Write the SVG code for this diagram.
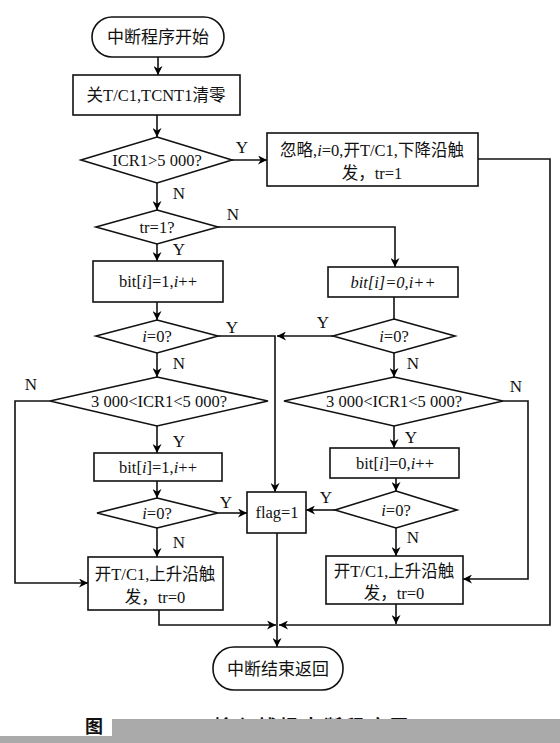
<svg xmlns="http://www.w3.org/2000/svg" width="560" height="743" viewBox="0 0 560 743">
<defs>
<marker id="ah" viewBox="0 0 10 10" refX="10" refY="5" markerWidth="9" markerHeight="9" markerUnits="userSpaceOnUse" orient="auto"><path d="M0,0 L10,5 L0,10 L3,5 Z" fill="#000"/></marker>
<style>
.s{fill:#fff;stroke:#111;stroke-width:1.6}
.c{fill:none;stroke:#111;stroke-width:1.6}
.a{fill:none;stroke:#111;stroke-width:1.6;marker-end:url(#ah)}
text{font-family:"Liberation Serif","Noto Sans CJK SC",serif;font-size:16.5px;fill:#111;text-anchor:middle}
.l{font-size:17px}
.it{font-style:italic}
</style>
</defs>
<rect width="560" height="743" fill="#fff"/>
<g id="connectors">
<line class="a" x1="158" y1="57" x2="158" y2="75"/>
<line class="a" x1="157" y1="115" x2="157" y2="137"/>
<line class="a" x1="232" y1="160" x2="267" y2="160"/>
<line class="a" x1="157" y1="183" x2="157" y2="210"/>
<polyline class="a" points="218,227 395,227 395,267"/>
<line class="a" x1="157" y1="244" x2="157" y2="261"/>
<line class="a" x1="157" y1="302" x2="157" y2="320"/>
<polyline class="a" points="218,336 275,336 275,492"/>
<line class="c" x1="394" y1="297" x2="394" y2="319"/>
<line class="a" x1="333" y1="336" x2="277" y2="336"/>
<line class="a" x1="394" y1="353" x2="394" y2="377"/>
<line class="a" x1="157" y1="353" x2="157" y2="377"/>
<polyline class="a" points="50,401 15,401 15,583 88,583"/>
<line class="a" x1="157" y1="426" x2="157" y2="453"/>
<line class="a" x1="157" y1="481" x2="157" y2="498"/>
<line class="a" x1="218" y1="513" x2="247" y2="513"/>
<line class="a" x1="157" y1="528" x2="157" y2="557"/>
<polyline class="a" points="503,401 528,401 528,579 463,579"/>
<line class="a" x1="394" y1="426" x2="394" y2="448"/>
<line class="a" x1="396" y1="478" x2="396" y2="491"/>
<line class="a" x1="335" y1="510" x2="306" y2="510"/>
<line class="a" x1="396" y1="528" x2="396" y2="556"/>
<line class="a" x1="396" y1="604" x2="396" y2="624"/>
<polyline class="a" points="478,159 550,159 550,625 279,625"/>
<polyline class="a" points="159,610 159,625 276,625"/>
<line class="a" x1="277" y1="533" x2="277" y2="647"/>
</g>
<g id="labels">
<text x="242" y="153" class="l">Y</text>
<text x="179" y="199" class="l">N</text>
<text x="233" y="220" class="l">N</text>
<text x="179" y="255" class="l">Y</text>
<text x="232" y="333" class="l">Y</text>
<text x="323" y="328" class="l">Y</text>
<text x="179" y="369" class="l">N</text>
<text x="413" y="369" class="l">N</text>
<text x="31" y="390" class="l">N</text>
<text x="516" y="392" class="l">N</text>
<text x="179" y="447" class="l">Y</text>
<text x="411" y="443" class="l">Y</text>
<text x="226" y="508" class="l">Y</text>
<text x="326" y="503" class="l">Y</text>
<text x="179" y="548" class="l">N</text>
<text x="413" y="543" class="l">N</text>
</g>
<g id="start"><rect class="s" x="92" y="17" width="132" height="40" rx="20"/><text x="158" y="43" class="l">中断程序开始</text></g>
<g id="clear"><rect class="s" x="73" y="75" width="167" height="40"/><text x="156" y="101">关T/C1,TCNT1清零</text></g>
<g id="d-icr"><polygon class="s" points="157,137 232,160 157,183 81,160"/><text x="157" y="166">ICR1&gt;5 000?</text></g>
<g id="ignore"><rect class="s" x="267" y="133" width="211" height="53"/><text x="372" y="156">忽略,<tspan class="it">i</tspan>=0,开T/C1,下降沿触</text><text x="372" y="179">发，tr=1</text></g>
<g id="d-tr"><polygon class="s" points="157,210 218,227 157,244 96,227"/><text x="157" y="233">tr=1?</text></g>
<g id="bit1a"><rect class="s" x="93" y="261" width="130" height="41"/><text x="158" y="287">bit[<tspan class="it">i</tspan>]=1,<tspan class="it">i</tspan>++</text></g>
<g id="d-i0-la"><polygon class="s" points="157,320 218,336 157,353 96,336"/><text x="157" y="342"><tspan class="it">i</tspan>=0?</text></g>
<g id="bit0a"><rect class="s" x="328" y="267" width="130" height="30"/><text x="393" y="288" class="it">bit[i]=0,i++</text></g>
<g id="d-i0-ra"><polygon class="s" points="394,319 455,336 394,353 333,336"/><text x="394" y="342"><tspan class="it">i</tspan>=0?</text></g>
<g id="d-rng-l"><polygon class="s" points="157,377 268,401 157,426 50,401"/><text x="159" y="407">3 000&lt;ICR1&lt;5 000?</text></g>
<g id="d-rng-r"><polygon class="s" points="394,377 503,401 394,426 284,401"/><text x="394" y="407">3 000&lt;ICR1&lt;5 000?</text></g>
<g id="bit1b"><rect class="s" x="94" y="453" width="128" height="28"/><text x="158" y="473">bit[<tspan class="it">i</tspan>]=1,<tspan class="it">i</tspan>++</text></g>
<g id="bit0b"><rect class="s" x="330" y="448" width="129" height="30"/><text x="395" y="469">bit[<tspan class="it">i</tspan>]=0,<tspan class="it">i</tspan>++</text></g>
<g id="d-i0-lb"><polygon class="s" points="157,498 218,513 157,528 97,513"/><text x="157" y="519"><tspan class="it">i</tspan>=0?</text></g>
<g id="d-i0-rb"><polygon class="s" points="396,491 457,510 396,528 335,510"/><text x="396" y="516"><tspan class="it">i</tspan>=0?</text></g>
<g id="flag"><rect class="s" x="247" y="492" width="59" height="41"/><text x="277" y="518">flag=1</text></g>
<g id="rise-l"><rect class="s" x="88" y="557" width="135" height="53"/><text x="155" y="580">开T/C1,上升沿触</text><text x="155" y="603">发，tr=0</text></g>
<g id="rise-r"><rect class="s" x="326" y="556" width="137" height="48"/><text x="394" y="577">开T/C1,上升沿触</text><text x="394" y="599">发，tr=0</text></g>
<g id="end"><rect class="s" x="213" y="647" width="130" height="43" rx="21"/><text x="278" y="675" class="l">中断结束返回</text></g>
<g id="caption">
<text x="85" y="733" style="text-anchor:start;font-size:18px;font-weight:bold;letter-spacing:4px">图 6　T/C1 输入捕捉中断程序图</text>
<rect x="112" y="719" width="448" height="24" fill="#aaa"/>
<rect x="0" y="736" width="560" height="7" fill="#aaa"/>
</g>
</svg>
